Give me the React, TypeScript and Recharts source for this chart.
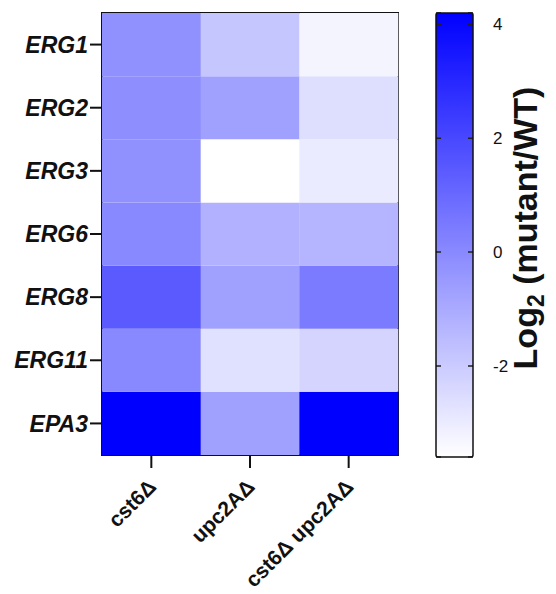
import React from 'react'
import { ComposedChart, BarChart, Bar, XAxis, YAxis, Cell, ReferenceArea, CartesianGrid } from 'recharts'

// genes top -> bottom, strains left -> right
const genes = ['ERG1', 'ERG2', 'ERG3', 'ERG6', 'ERG8', 'ERG11', 'EPA3']
const strains = ['cst6Δ', 'upc2AΔ', 'cst6Δ upc2AΔ']

// log2(mutant/WT), same order as genes
const cst6 = [-0.2, -0.15, -0.2, 0.0, 1.45, 0.05, 4.2]
const upc2A = [-1.85, -0.7, -3.6, -1.2, -0.7, -2.65, -0.7]
const cst6upc2A = [-3.25, -2.6, -3.0, -1.35, 0.45, -2.3, 4.2]
const strainValues = [cst6, upc2A, cst6upc2A]

// colour scale
const cbMin = -3.6
const cbMax = 4.2
const cbTicks = [-2, 0, 2, 4]

const font = 'Liberation Sans, Arial, sans-serif'

const colorFor = (v: number) => {
  const t = Math.max(0, Math.min(1, (v - cbMin) / (cbMax - cbMin)))
  const c = Math.round(255 * (1 - t))
  return `rgb(${c},${c},255)`
}

// one unit-high stacked segment per gene, bottom gene first
const rows = strains.map((s) => {
  const r: any = { strain: s }
  genes.forEach((g) => { r[g] = 1 })
  return r
})
const stackOrder = [...genes].reverse()
const rowTicks = genes.map((_, i) => i + 0.5)

const cbData = [{ name: 'scale', range: [cbMin, cbMax] }]

const XTick = ({ x, y, payload }: any) => (
  <text
    x={x + 6}
    y={y + 18}
    transform={`rotate(-45 ${x + 6} ${y + 18})`}
    textAnchor="end"
    fontFamily={font}
    fontSize={21}
    fontWeight={700}
    fill="#111"
  >
    {payload.value}
  </text>
)

const CbLabel = ({ viewBox }: any) => {
  const cx = viewBox.x + 64
  const cy = viewBox.y + viewBox.height / 2 - 7
  return (
    <text
      x={cx}
      y={cy}
      transform={`rotate(-90 ${cx} ${cy})`}
      textAnchor="middle"
      fontFamily={font}
      fontSize={34}
      fontWeight={700}
      fill="#111"
    >
      Log<tspan fontSize={23} dy={7}>2</tspan><tspan dy={-7}> (mutant/WT)</tspan>
    </text>
  )
}

export default function App() {
  return (
    <div style={{ position: 'fixed', left: 0, top: 0, width: 556, height: 594, background: '#fff' }}>
      {/* heatmap */}
      <div style={{ position: 'absolute', left: 0, top: 0 }}>
        <BarChart
          width={410}
          height={594}
          data={rows}
          margin={{ top: 13, right: 12, left: 0, bottom: 9 }}
          barCategoryGap={0}
          barGap={0}
        >
          <XAxis
            dataKey="strain"
            height={130}
            axisLine={false}
            tickSize={13}
            tickMargin={2}
            tickLine={{ stroke: '#111', strokeWidth: 2 }}
            tick={<XTick />}
            interval={0}
          />
          <YAxis
            type="number"
            domain={[0, genes.length]}
            ticks={rowTicks}
            width={102}
            axisLine={false}
            tickSize={12}
            tickMargin={2}
            tickLine={{ stroke: '#111', strokeWidth: 2 }}
            tickFormatter={(v: number) => genes[genes.length - 1 - Math.floor(v)]}
            tick={{ fill: '#111', fontSize: 23, fontWeight: 700, fontStyle: 'italic', fontFamily: font }}
          />
          {stackOrder.map((g) => {
            const gi = genes.indexOf(g)
            return (
              <Bar key={g} dataKey={g} stackId="heat" isAnimationActive={false}>
                {strains.map((s, si) => (
                  <Cell key={s} fill={colorFor(strainValues[si][gi])} />
                ))}
              </Bar>
            )
          })}
          <ReferenceArea
            x1={strains[0]}
            x2={strains[strains.length - 1]}
            y1={0}
            y2={genes.length}
            fill="none"
            fillOpacity={0}
            stroke="#111"
            strokeWidth={2}
            ifOverflow="visible"
          />
        </BarChart>
      </div>

      {/* colour bar: gradient background + short inner tick marks from the grid */}
      <div style={{ position: 'absolute', left: 416, top: 0 }}>
        <ComposedChart
          width={140}
          height={594}
          data={cbData}
          margin={{ top: 13, right: 0, left: 20, bottom: 137 }}
          barCategoryGap={0}
        >
          <defs>
            <linearGradient id="cbGrad" x1="0" y1="0" x2="0" y2="1">
              <stop offset="0%" stopColor="#0000ff" />
              <stop offset="100%" stopColor="#ffffff" />
            </linearGradient>
          </defs>
          <CartesianGrid
            vertical={false}
            fill="url(#cbGrad)"
            fillOpacity={1}
            stroke="#222"
            strokeWidth={1.5}
            strokeDasharray="5 27 5 200"
          />
          <XAxis dataKey="name" hide />
          <YAxis
            type="number"
            orientation="right"
            domain={[cbMin, cbMax]}
            ticks={cbTicks}
            width={83}
            axisLine={false}
            tickLine={false}
            tickMargin={14}
            tick={{ fill: '#111', fontSize: 17, fontFamily: font }}
            label={<CbLabel />}
          />
          <Bar dataKey="range" fill="none" isAnimationActive={false} />
          <ReferenceArea
            x1="scale"
            x2="scale"
            y1={cbMin}
            y2={cbMax}
            fill="none"
            fillOpacity={0}
            stroke="#111"
            strokeWidth={1.5}
            radius={2}
            ifOverflow="visible"
          />
        </ComposedChart>
      </div>
    </div>
  )
}
